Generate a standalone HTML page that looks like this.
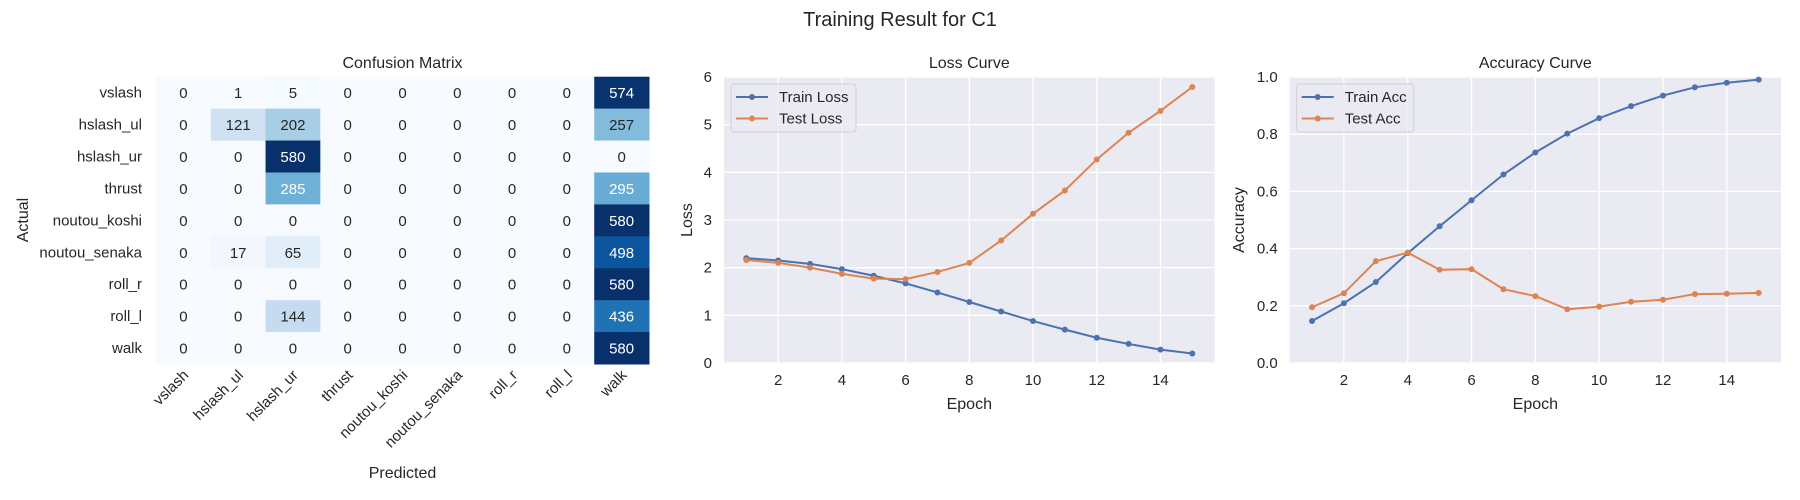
<!DOCTYPE html>
<html><head><meta charset="utf-8"><style>
html,body{margin:0;padding:0;background:#fff}
svg{display:block;font-family:"Liberation Sans",Arial,sans-serif}
</style></head><body>
<svg id="fig" width="1800" height="500" viewBox="0 0 1800 500">
<text x="900" y="26" text-anchor="middle" font-size="20" fill="#262626">Training Result for C1</text>
</svg>
<script>
const classes=["vslash","hslash_ul","hslash_ur","thrust","noutou_koshi","noutou_senaka","roll_r","roll_l","walk"];
const cmRow0=[0,1,5,0,0,0,0,0,574];
const cmRow1=[0,121,202,0,0,0,0,0,257];
const cmRow2=[0,0,580,0,0,0,0,0,0];
const cmRow3=[0,0,285,0,0,0,0,0,295];
const cmRow4=[0,0,0,0,0,0,0,0,580];
const cmRow5=[0,17,65,0,0,0,0,0,498];
const cmRow6=[0,0,0,0,0,0,0,0,580];
const cmRow7=[0,0,144,0,0,0,0,0,436];
const cmRow8=[0,0,0,0,0,0,0,0,580];
const epochs=[1,2,3,4,5,6,7,8,9,10,11,12,13,14,15];
const trainLoss=[2.20,2.15,2.08,1.97,1.83,1.67,1.48,1.28,1.08,0.88,0.70,0.53,0.40,0.28,0.20];
const testLoss=[2.16,2.10,2.00,1.87,1.77,1.76,1.91,2.10,2.57,3.13,3.62,4.27,4.83,5.29,5.79];
const trainAcc=[0.147,0.209,0.283,0.384,0.478,0.569,0.659,0.736,0.802,0.856,0.898,0.935,0.964,0.980,0.991];
const testAcc=[0.195,0.244,0.356,0.386,0.326,0.328,0.258,0.234,0.188,0.197,0.214,0.221,0.241,0.242,0.245];
const xTicks=[2,4,6,8,10,12,14];
const lossTicks=[0,1,2,3,4,5,6];
const accTicks=[0,0.2,0.4,0.6,0.8,1.0];

const cm=[cmRow0,cmRow1,cmRow2,cmRow3,cmRow4,cmRow5,cmRow6,cmRow7,cmRow8];
const svg=document.getElementById('fig');
const NS='http://www.w3.org/2000/svg';
function mk(tag,attrs,parent){const e=document.createElementNS(NS,tag);for(const k in attrs)e.setAttribute(k,attrs[k]);(parent||svg).appendChild(e);return e;}
const TXT='#262626';
const stops=["#f7fbff","#deebf7","#c6dbef","#9ecae1","#6baed6","#4292c6","#2171b5","#08519c","#08306b"];
function hex(h){return [1,3,5].map(i=>parseInt(h.substr(i,2),16));}
function blues(t){t=Math.max(0,Math.min(1,t));const p=t*8;const i=Math.min(7,Math.floor(p));const f=p-i;const a=hex(stops[i]),b=hex(stops[i+1]);return a.map((v,k)=>Math.round(v+(b[k]-v)*f));}
function lum(c){const r=c.map(v=>{v/=255;return v<=0.03928?v/12.92:Math.pow((v+0.055)/1.055,2.4)});return 0.2126*r[0]+0.7152*r[1]+0.0722*r[2];}

// ---- Confusion matrix
const hmX=156,hmY=76.7,hmW=493,hmH=287.3;
const cw=hmW/classes.length,ch=hmH/classes.length;
let vmax=0;cm.forEach(r=>r.forEach(v=>{if(v>vmax)vmax=v;}));
const gH=mk('g',{});


const t1=mk('text',{x:hmX+hmW/2,y:68,'text-anchor':'middle','font-size':16,fill:TXT},gH);t1.textContent='Confusion Matrix';

cm.forEach((row,i)=>{row.forEach((v,j)=>{
  const c=blues(v/vmax);
  const r=mk('rect',{x:hmX+j*cw,y:hmY+i*ch,width:cw+0.5,height:ch+0.5,fill:'rgb('+c.join(',')+')'},gH);
  
  
  const t=mk('text',{x:hmX+(j+0.5)*cw,y:hmY+(i+0.5)*ch+5.5,'text-anchor':'middle','font-size':15,fill:lum(c)<0.408?'#ffffff':TXT},gH);
  t.textContent=String(v);
  
  
});});
classes.forEach((name,i)=>{
  const t=mk('text',{x:142,y:hmY+(i+0.5)*ch+5,'text-anchor':'end','font-size':15,fill:TXT},gH);t.textContent=name;
  
  const cx=hmX+(i+0.5)*cw+6,cy=hmY+hmH+12;
  const u=mk('text',{x:cx,y:cy,'text-anchor':'end','font-size':15,fill:TXT,transform:'rotate(-45 '+cx+' '+cy+')'},gH);u.textContent=name;
  
});
let t2=mk('text',{x:hmX+hmW/2,y:478,'text-anchor':'middle','font-size':16,fill:TXT},gH);t2.textContent='Predicted';

t2=mk('text',{x:28,y:220,'text-anchor':'middle','font-size':16,fill:TXT,transform:'rotate(-90 28 220)'},gH);t2.textContent='Actual';


// ---- line charts
function lineChart(o){
  const g=mk('g',{});
  
  
  const X0=0.3,X1=15.7;
  const sx=e=>o.x+(e-X0)/(X1-X0)*o.w;
  const sy=v=>o.y+o.h-(v-o.ymin)/(o.ymax-o.ymin)*o.h;
  const bg=mk('rect',{x:o.x,y:o.y,width:o.w,height:o.h,fill:'#eaeaf2'},g);
  
  o.yticks.forEach(v=>{
    const l=mk('line',{x1:o.x,x2:o.x+o.w,y1:sy(v),y2:sy(v),stroke:'#fff','stroke-width':1.3},g);
    
    const t=mk('text',{x:o.x-12,y:sy(v)+5,'text-anchor':'end','font-size':15,fill:TXT},g);t.textContent=o.fmt(v);
    
  });
  xTicks.forEach(v=>{
    const l=mk('line',{x1:sx(v),x2:sx(v),y1:o.y,y2:o.y+o.h,stroke:'#fff','stroke-width':1.3},g);
    
    const t=mk('text',{x:sx(v),y:o.y+o.h+22,'text-anchor':'middle','font-size':15,fill:TXT},g);t.textContent=String(v);
    
  });
  let t=mk('text',{x:o.x+o.w/2,y:68,'text-anchor':'middle','font-size':16,fill:TXT},g);t.textContent=o.title;
  
  t=mk('text',{x:o.x+o.w/2,y:409,'text-anchor':'middle','font-size':16,fill:TXT},g);t.textContent='Epoch';
  
  const yx=o.ylabX;
  t=mk('text',{x:yx,y:220,'text-anchor':'middle','font-size':16,fill:TXT,transform:'rotate(-90 '+yx+' 220)'},g);t.textContent=o.ylabel;
  
  o.series.forEach(s=>{
    const pts=epochs.map((e,i)=>sx(e)+','+sy(s.data[i])).join(' ');
    const pl=mk('polyline',{points:pts,fill:'none',stroke:s.color,'stroke-width':2},g);
    
    epochs.forEach((e,i)=>{
      const c=mk('circle',{cx:sx(e),cy:sy(s.data[i]),r:3,fill:s.color},g);
      
    });
  });
  // legend
  const lx=o.x+7,ly=84;
  const lw=o.legW;
  const lg=mk('g',{},g);
  
  mk('rect',{x:lx,y:ly,width:lw,height:48,rx:3,fill:'#eaeaf2','fill-opacity':0.8,stroke:'#d0d0d0'},lg);
  o.series.forEach((s,i)=>{
    const yy=ly+13+i*21.5;
    const e=mk('g',{},lg);
    
    mk('line',{x1:lx+5,x2:lx+37,y1:yy,y2:yy,stroke:s.color,'stroke-width':2},e);
    mk('circle',{cx:lx+21,cy:yy,r:3,fill:s.color},e);
    const tt=mk('text',{x:lx+48,y:yy+5,'font-size':15,fill:TXT},e);tt.textContent=s.label;
  });
}
lineChart({name:'loss-curve-chart',title:'Loss Curve',x:724,y:77,w:490.6,h:286,ymin:0,ymax:6,yticks:lossTicks,fmt:v=>String(v),ylabel:'Loss',ylabX:692,legW:125,
  series:[{key:'train-loss',label:'Train Loss',data:trainLoss,color:'#4c72b0'},{key:'test-loss',label:'Test Loss',data:testLoss,color:'#dd8452'}]});
lineChart({name:'accuracy-curve-chart',title:'Accuracy Curve',x:1289.7,y:77,w:491.3,h:286,ymin:0,ymax:1,yticks:accTicks,fmt:v=>v.toFixed(1),ylabel:'Accuracy',ylabX:1244,legW:117,
  series:[{key:'train-acc',label:'Train Acc',data:trainAcc,color:'#4c72b0'},{key:'test-acc',label:'Test Acc',data:testAcc,color:'#dd8452'}]});
</script>
</body></html>
